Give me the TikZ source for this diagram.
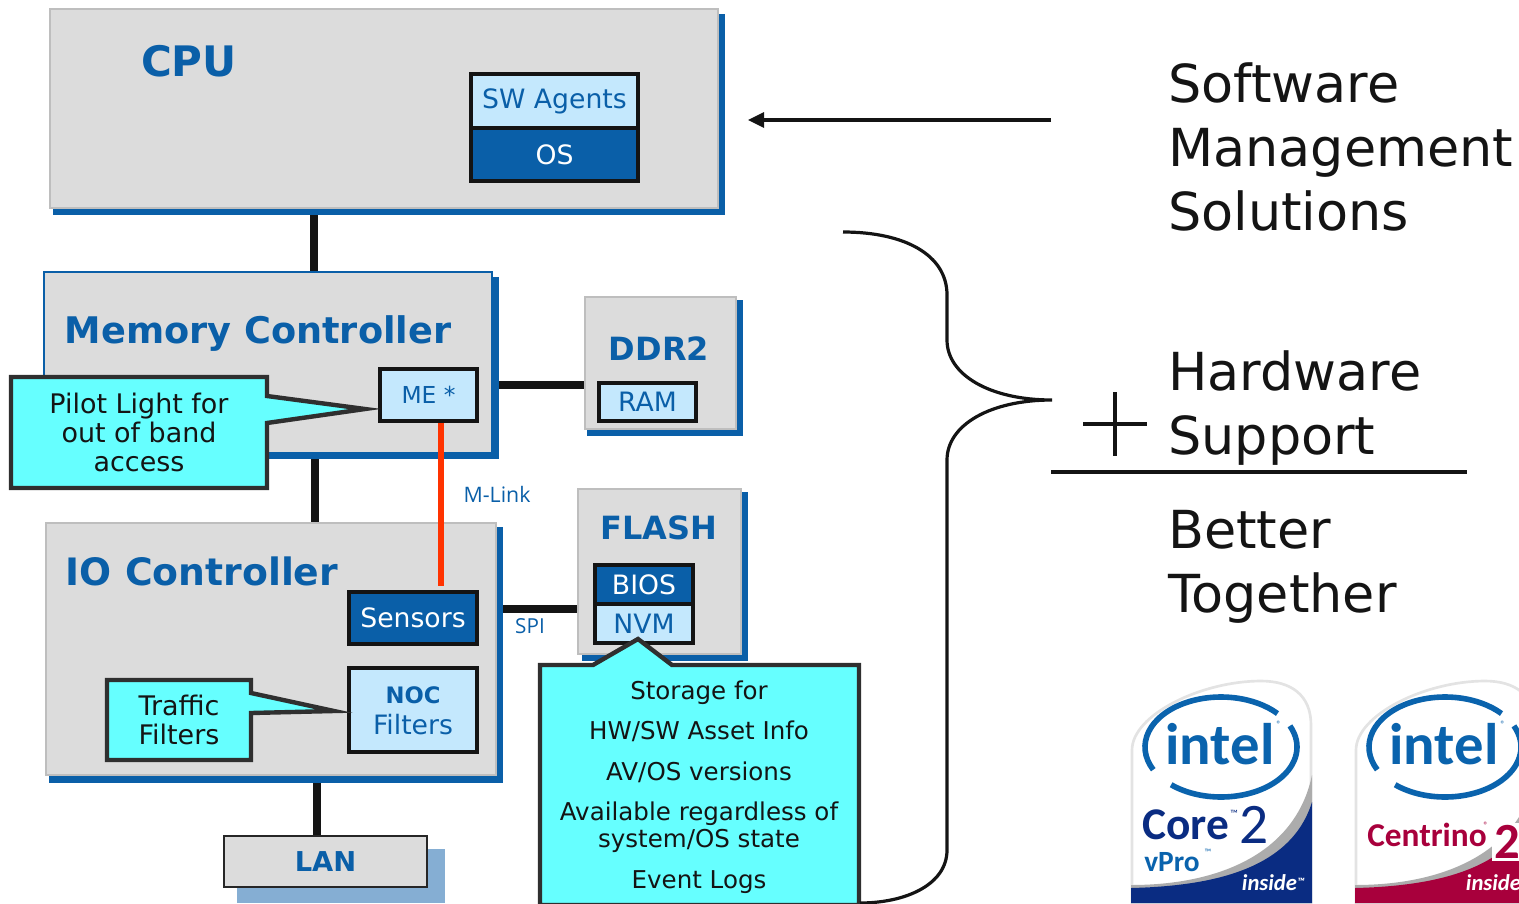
\documentclass[tikz,border=0pt]{standalone}
\usepackage{fontspec}
\setmainfont{DejaVu Sans}
\newfontfamily\linkfont{Open Sans}
\newfontfamily\logofont{Carlito}
\usepackage{xcolor}
\definecolor{chipblue}{HTML}{0A5FA8}
\definecolor{shadeblue}{HTML}{85AED3}
\definecolor{chipgrey}{HTML}{DCDCDC}
\definecolor{edgegrey}{HTML}{BEBEBE}
\definecolor{paleblue}{HTML}{C4E8FD}
\definecolor{noteaqua}{HTML}{66FFFF}
\definecolor{noteedge}{HTML}{2F2F2F}
\definecolor{linkred}{HTML}{FF3300}
\definecolor{logoblue}{HTML}{0A63AD}
\definecolor{navy}{HTML}{0A2C82}
\definecolor{wine}{HTML}{A8003C}
\newcommand{\sz}[2]{\fontsize{#1}{#2}\selectfont}
% box by its corners: style, name, x1, y1, x2, y2, text
\newcommand{\hwbox}[7]{\node[#1, minimum width={(#5-#3)*0.75pt}, minimum height={(#6-#4)*0.75pt}] (#2) at ({(#3+#5)/2},{(#4+#6)/2}) {\raisebox{-1.5pt}{#7}};}
% logo badge: name, left edge, colour of the band
\newcommand{\logobadge}[3]{
  \begin{scope}[shift={(#2,680)}]
    \draw[fill=white, draw=gray!22, line width=2pt] (1,223) -- (1,70) .. controls (1,35) and (70,1) .. (130,1) .. controls (160,1) and (180,15) .. (180,45) -- (180,223) -- cycle;
    \fill[gray!65] (0,205) .. controls (90,205) and (165,172) .. (181,95) -- (181,125) .. controls (160,190) and (80,208) .. (0,208) -- cycle;
    \fill[#3] (0,208) .. controls (80,206) and (160,190) .. (181,122) -- (181,223) -- (0,223) -- cycle;
    \draw[logoblue, line width=4.2pt] (90,67) ++(131:76 and 50) arc[start angle=131, end angle=-25, x radius=76, y radius=50];
    \draw[logoblue, line width=4.2pt] (90,67) ++(153:76 and 50) arc[start angle=153, end angle=318, x radius=76, y radius=50];
    \node[logotext, text=logoblue, font=\logofont\bfseries\sz{44}{44}] (#1word) at (89,64) {intel};
    \node[logotext, text=logoblue, font=\logofont\sz{7}{7}] (#1mark) at (148,44) {®};
    \node[logotext, text=white, anchor=east, font=\logofont\bfseries\itshape\sz{17}{17}] (#1inside) at (174,203) {inside{\sz{8}{8}\raisebox{4pt}{™}}};
  \end{scope}
}
\tikzset{
  shade/.style={fill=chipblue, inner sep=0pt},
  chip/.style={fill=chipgrey, draw=edgegrey, line width=2pt, inner sep=0pt},
  part/.style={fill=paleblue, draw=black!92, line width=3.4pt, inner sep=0pt, text=chipblue, font=\sz{20}{23}},
  dark/.style={part, fill=chipblue, text=white},
  title/.style={text=chipblue, font=\bfseries\sz{27.5}{33}, inner sep=0pt},
  note/.style={fill=noteaqua, draw=noteedge, line width=3.3pt, miter limit=20},
  notetext/.style={align=center, inner sep=0pt, text=black!92, font=\sz{20.2}{21.75}},
  bus/.style={line width=6pt, black!92},
  bigtext/.style={align=left, anchor=north west, inner sep=0pt, text=black!92, font=\sz{39.3}{48}},
  bigline/.style={line width=2.4pt, black!92},
  logotext/.style={inner sep=0pt, font=\logofont\bfseries},
}
\begin{document}
\begin{tikzpicture}[x=0.75pt,y=0.75pt,yscale=-1,xscale=1]
\useasboundingbox (0,0) rectangle (1519,903);

% shadows
\hwbox{shade}{cpushade}{53}{14}{725}{215}{}
\hwbox{shade}{mcshade}{49}{277}{499}{459}{}
\hwbox{shade}{ddrshade}{587}{300}{743}{436}{}
\hwbox{shade}{flashshade}{582}{492}{748}{661}{}
\hwbox{shade}{ioshade}{49}{527}{503}{783}{}
\hwbox{shade, fill=shadeblue}{lanshade}{237}{849}{445}{903}{}

% chips
\hwbox{chip}{cpu}{50}{9}{718}{208}{}
\hwbox{chip, draw=chipblue}{mc}{44}{272}{492}{453}{}
\hwbox{chip}{ddr}{585}{297}{736}{429}{}
\hwbox{chip}{flash}{578}{489}{741}{654}{}
\hwbox{chip}{io}{46}{523}{496}{775}{}
\hwbox{chip, draw=black!85, line width=1.9pt}{lan}{224}{836}{427}{887}{\color{chipblue}\bfseries\sz{20.5}{24}LAN}

% where the buses sit
\coordinate (cpubus) at (314,0);
\coordinate (iobus) at (315,0);
\coordinate (lanbus) at (317,0);
\coordinate (ddrbus) at (0,385);
\coordinate (flashbus) at (0,609);
\coordinate (mlink) at (441,0);

\draw[bus] (cpushade.south -| cpubus) -- (mc.north -| cpubus);
\draw[bus] (mcshade.south -| iobus) -- (io.north -| iobus);
\draw[bus] (ioshade.south -| lanbus) -- (lan.north -| lanbus);
\draw[bus, line width=5.5pt] (mcshade.east |- ddrbus) -- (ddr.west |- ddrbus);
\draw[bus, line width=5.5pt] (ioshade.east |- flashbus) -- (flash.west |- flashbus);

% titles
\node[title, font=\bfseries\sz{31.5}{36}] (cpulabel) at (189,61) {CPU};
\node[title] (mclabel) at (258,334) {Memory Controller};
\node[title, font=\bfseries\sz{28.3}{33}] (iolabel) at (202,571) {IO Controller};
\node[title, font=\bfseries\sz{24}{28}] (ddrlabel) at (659,349) {DDR2};
\node[title, font=\bfseries\sz{24}{28}] (flashlabel) at (659,528) {FLASH};

% parts
\hwbox{part}{agents}{471}{74}{638}{128}{SW Agents}
\hwbox{dark}{os}{471}{128}{638}{181}{OS}
\hwbox{part, font=\sz{17.5}{21}}{me}{380}{369}{477}{421}{ME *}
\hwbox{part}{ram}{599}{383}{696}{421}{RAM}
\hwbox{dark}{bios}{595}{565}{693}{604}{BIOS}
\hwbox{part}{nvm}{595}{604}{693}{643}{NVM}
\hwbox{dark}{sensors}{349}{592}{477}{644}{Sensors}
\hwbox{part}{noc}{349}{668}{477}{752}{}
\node[inner sep=0pt, text=chipblue, font=\bfseries\sz{17}{20}] (noclabel) at (413,695) {NOC};
\node[inner sep=0pt, text=chipblue, font=\sz{20}{24}] (noctext) at (413,725) {Filters};

\draw[line width=4.5pt, linkred] (me.south -| mlink) -- ([yshift=-3pt]sensors.north -| mlink);
\node[inner sep=0pt, text=chipblue, font=\linkfont\sz{16}{18}] (mlinklabel) at (497,494) {M-Link};
\node[inner sep=0pt, text=chipblue, font=\linkfont\sz{15.5}{18}] (spilabel) at (530,626) {SPI};

% notes
\draw[note] (11,377) -- (267,377) -- (267,396) -- (365,409) -- (267,423) -- (267,488) -- (11,488) -- cycle;
\node[notetext] (pilot) at (139,432) {Pilot Light for\\out of band\\access};
\draw[note] (107,680) -- (251,680) -- (251,693) -- (334,711) -- (251,713) -- (251,760) -- (107,760) -- cycle;
\node[notetext] (traffic) at (179,720) {Traffic\\Filters};
\draw[note] (540,665) -- (593,665) -- (638,639) -- (672,665) -- (859,665) -- (859,905) -- (540,905) -- cycle;
\node[notetext, font=\sz{18.4}{20.25}] (storage) at (699,787) {Storage for\\[10pt]HW/SW Asset Info\\[10.5pt]AV/OS versions\\[10pt]Available regardless of\\system/OS state\\[10pt]Event Logs};

% right hand side
\coordinate (arrowfrom) at (1051,120);
\coordinate (arrowto) at (748,120);
\draw[bigline] (arrowfrom) -- (762,120);
\fill[black!92] (arrowto) -- (764,112) -- (764,128) -- cycle;

\coordinate (bracetip) at (1052,400);
\draw[bigline] (843,232) .. controls (905,232) and (947,255) .. (947,295) -- (947,340) .. controls (947,375) and (990,400) .. (bracetip) .. controls (990,400) and (947,425) .. (947,460) -- (947,850) .. controls (947,885) and (905,903) .. (860,903);

\node[bigtext] (software) at (1168,62) {Software\\Management\\Solutions};
\node[bigtext] (hardware) at (1168,350) {Hardware\\Support};
\node[bigtext] (better) at (1168,510) {Better\\Together};
\draw[bigline] (1083,424) -- (1147,424);
\draw[bigline] (1115,392) -- (1115,456);
\draw[bigline] (1051,472) -- (1467,472);

% logos
\logobadge{vpro}{1131}{navy}
\node[logotext, text=navy, anchor=west, font=\logofont\bfseries\sz{34}{36}] (corelabel) at (1142,825) {Core};
\node[logotext, text=navy, font=\logofont\sz{8}{8}] (coretm) at (1234,814) {™};
\node[logotext, text=navy, anchor=west, font=\logofont\sz{43}{44}] (coretwo) at (1239,825) {2};
\node[logotext, text=logoblue, anchor=west, font=\logofont\bfseries\sz{22}{24}] (vprolabel) at (1144,862) {vPro};
\node[logotext, text=logoblue, font=\logofont\sz{7}{7}] (vprotm) at (1208,852) {™};

\logobadge{centrino}{1355}{wine}
\node[logotext, text=wine, anchor=west, font=\logofont\bfseries\sz{25}{28}] (centrinolabel) at (1367,835) {Centrino};
\node[logotext, text=wine, font=\logofont\sz{7}{7}] (centrinomark) at (1486,825) {®};
\node[logotext, fill=white, inner sep=1.5pt, text=wine, anchor=west, font=\logofont\bfseries\sz{38}{40}] (centrinotwo) at (1492,842) {2};
\end{tikzpicture}
\end{document}
